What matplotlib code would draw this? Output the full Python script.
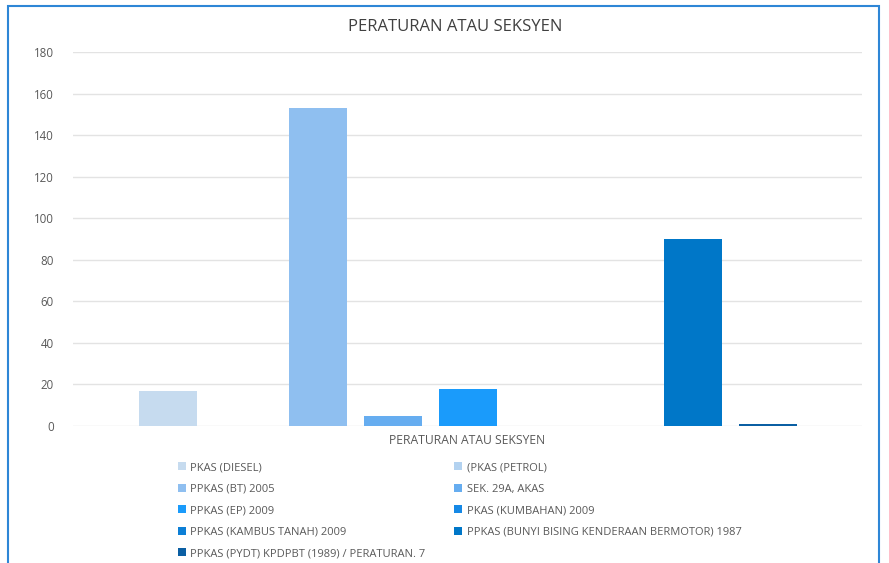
import numpy as np
import matplotlib.pyplot as plt
from matplotlib.patches import Rectangle

# data
series_names = ['PKAS (DIESEL)', '(PKAS (PETROL)', 'PPKAS (BT) 2005', 'SEK. 29A, AKAS',
                'PPKAS (EP) 2009', 'PKAS (KUMBAHAN) 2009', 'PPKAS (KAMBUS TANAH) 2009',
                'PPKAS (BUNYI BISING KENDERAAN BERMOTOR) 1987',
                'PPKAS (PYDT) KPDPBT (1989) / PERATURAN. 7']
series_values = [17, 0, 153, 5, 18, 0, 0, 90, 1]
series_colors = ['#c6dbef', '#b3d2f0', '#8fbff0', '#66adf0', '#1a9bfb',
                 '#1689e6', '#0c7fd6', '#0077c8', '#0b5fa3']
category = 'PERATURAN ATAU SEKSYEN'
y_ticks = [0, 20, 40, 60, 80, 100, 120, 140, 160, 180]

plt.rcParams['font.family'] = ['Open Sans', 'DejaVu Sans']

fig = plt.figure(figsize=(8.89, 5.63), dpi=100)
fig.patch.set_facecolor('white')

# blue chart frame
fig.add_artist(Rectangle((8 / 889, -0.02), (879 - 8) / 889, 1 - 6 / 563 + 0.02,
                         transform=fig.transFigure, fill=False,
                         edgecolor='#2e86d6', linewidth=1.5))

ax = fig.add_axes([73 / 889, 1 - 426 / 563, (862 - 73) / 889, (426 - 52) / 563])

n = len(series_values)
for i in range(n):
    ax.bar(i, series_values[i], width=58 / 75, color=series_colors[i],
           label=series_names[i], zorder=3)

ax.set_xlim(-0.5 - 57 / 75, n - 0.5 + 57 / 75)
ax.set_ylim(0, 180)
ax.set_yticks(y_ticks)
ax.set_xticks([])
ax.tick_params(axis='y', length=0, labelsize=8.3, labelcolor='#595959', pad=14)
ax.grid(axis='y', color='#e3e3e3', linewidth=1, zorder=0)
for s in ax.spines.values():
    s.set_visible(False)
ax.set_xlabel(category, fontsize=8.7, color='#595959', labelpad=6)

fig.text(455 / 889, 1 - 27 / 563, category, ha='center', va='center',
         fontsize=12, color='#404040')

# legend: two columns, row-major like Excel
handles, labels = ax.get_legend_handles_labels()
order = [0, 2, 4, 6, 8, 1, 3, 5, 7]
leg = fig.legend([handles[i] for i in order], [labels[i] for i in order],
                 ncol=2, loc='upper left', bbox_to_anchor=(168 / 889, 1 - 452 / 563),
                 frameon=False, fontsize=8, labelcolor='#595959',
                 handlelength=0.7, handleheight=0.7, handletextpad=0.4,
                 columnspacing=2.6, labelspacing=0.95)

fig.savefig('out.png', dpi=100)
